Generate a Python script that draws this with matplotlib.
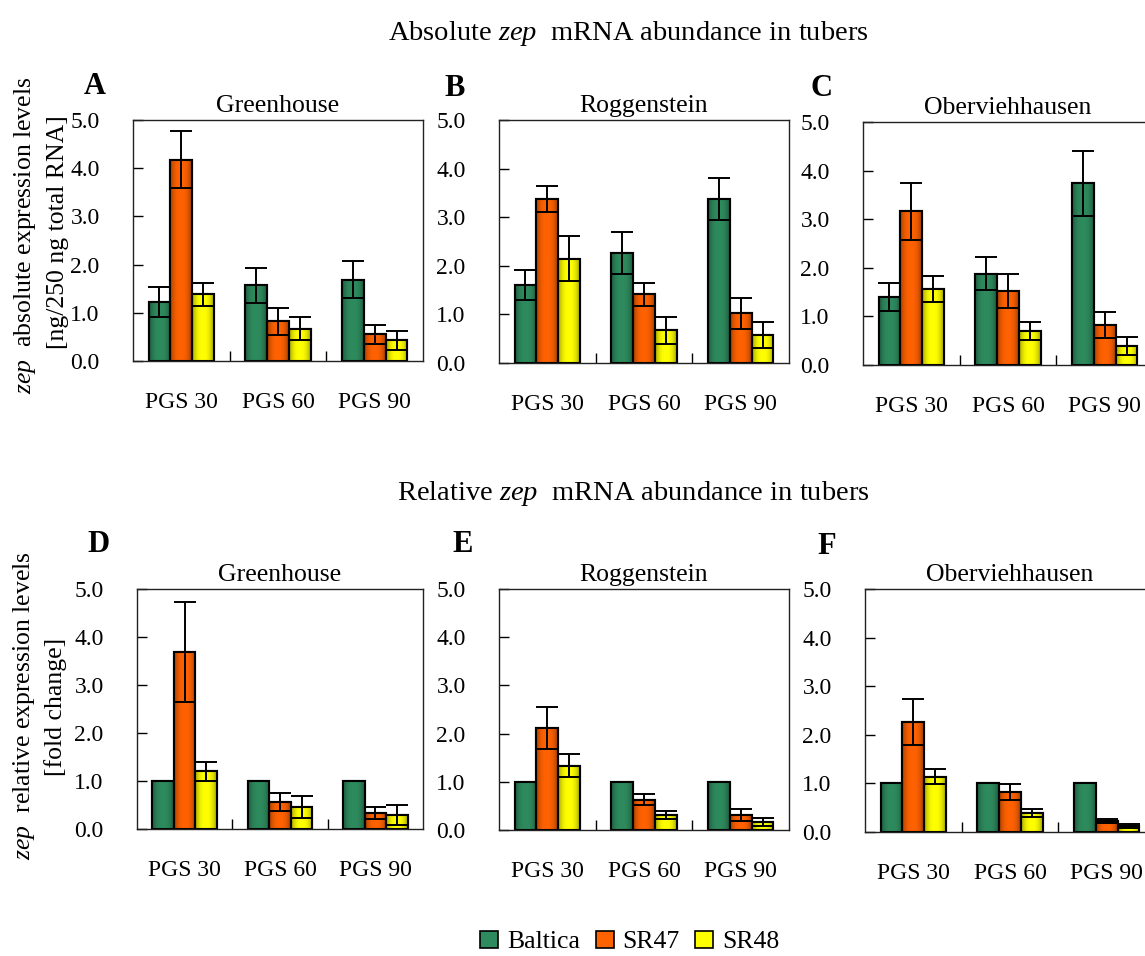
import numpy as np
import matplotlib.pyplot as plt
from matplotlib.patches import Patch
from matplotlib.colors import to_rgb

plt.rcParams['font.family'] = ['Liberation Serif', 'DejaVu Serif']
plt.rcParams['mathtext.fontset'] = 'custom'
plt.rcParams['mathtext.rm'] = 'Liberation Serif'
plt.rcParams['mathtext.it'] = 'Liberation Serif:italic'

groups = ['PGS 30', 'PGS 60', 'PGS 90']
cultivars = ['Baltica', 'SR47', 'SR48']
sites = ['Greenhouse', 'Roggenstein', 'Oberviehhausen']

# absolute expression (A-C), rows = cultivar, cols = PGS 30/60/90
abs_mean = {
    'Greenhouse':     [[1.22, 1.57, 1.69], [4.18, 0.82, 0.55], [1.38, 0.67, 0.43]],
    'Roggenstein':    [[1.61, 2.27, 3.37], [3.37, 1.41, 1.02], [2.15, 0.67, 0.58]],
    'Oberviehhausen': [[1.40, 1.88, 3.74], [3.16, 1.52, 0.82], [1.56, 0.70, 0.39]],
}
abs_err = {
    'Greenhouse':     [[0.31, 0.36, 0.39], [0.60, 0.28, 0.19], [0.24, 0.24, 0.20]],
    'Roggenstein':    [[0.31, 0.43, 0.43], [0.27, 0.24, 0.32], [0.47, 0.27, 0.27]],
    'Oberviehhausen': [[0.28, 0.34, 0.67], [0.58, 0.35, 0.27], [0.27, 0.19, 0.19]],
}
# relative expression (D-F), Baltica = 1 (no error)
rel_mean = {
    'Greenhouse':     [[1.0, 1.0, 1.0], [3.69, 0.56, 0.33], [1.20, 0.45, 0.29]],
    'Roggenstein':    [[1.0, 1.0, 1.0], [2.12, 0.63, 0.31], [1.33, 0.31, 0.16]],
    'Oberviehhausen': [[1.0, 1.0, 1.0], [2.27, 0.82, 0.23], [1.14, 0.39, 0.12]],
}
rel_err = {
    'Greenhouse':     [[0, 0, 0], [1.04, 0.19, 0.12], [0.20, 0.23, 0.20]],
    'Roggenstein':    [[0, 0, 0], [0.43, 0.11, 0.12], [0.24, 0.08, 0.08]],
    'Oberviehhausen': [[0, 0, 0], [0.47, 0.16, 0.04], [0.16, 0.08, 0.04]],
}

colors = ['#2e8b5e', '#ff6200', '#ffff00']
W, H = 1145, 956

fig = plt.figure(figsize=(W / 100, H / 100), dpi=100)

# axes boxes in pixels: left, top, right, bottom
boxes_top = [(133, 120, 423, 361), (499, 120, 789, 363), (863, 122, 1153, 365)]
boxes_bot = [(137, 589, 423, 829), (499, 589, 789, 830), (865, 589, 1155, 832)]
letters_top = [('A', 95, 87), ('B', 455, 88), ('C', 822, 88)]
letters_bot = [('D', 98, 545), ('E', 463, 545), ('F', 827, 547)]


def shade(ax, bars, color):
    # horizontal shading inside each bar, darker toward the edges
    base = np.array(to_rgb(color))
    t = np.linspace(0, 1, 64)
    f = 1 - 0.38 * np.abs(2 * t - 1) ** 2.5
    img = (base[None, :] * f[:, None])[None, :, :]
    for p in bars:
        x0, y0 = p.get_x(), p.get_y()
        im = ax.imshow(img, extent=(x0, x0 + p.get_width(), y0, y0 + p.get_height()),
                       aspect='auto', zorder=2.1, interpolation='bilinear')
        im.set_clip_path(p)


def panel(box, site, means, errs):
    l, t, r, b = box
    ax = fig.add_axes([l / W, 1 - b / H, (r - l) / W, (b - t) / H])
    x = np.arange(len(groups))
    w = 0.226
    for i in range(3):
        e = np.array(errs[i])
        bars = ax.bar(x + (i - 1) * w, means[i], w, color=colors[i], edgecolor='black',
                      linewidth=1.5, zorder=2)
        shade(ax, bars, colors[i])
        ax.bar(x + (i - 1) * w, means[i], w, fill=False, edgecolor='black',
               linewidth=1.5, zorder=2.2)
        if e.any():
            ax.errorbar(x + (i - 1) * w, means[i], yerr=e, fmt='none', ecolor='black',
                        elinewidth=1.4, capsize=8, capthick=1.4, zorder=3)
    ax.set_xlim(-0.5, 2.5)
    ax.set_ylim(0, 5)
    ax.set_yticks(np.arange(0, 5.01, 1.0))
    ax.set_yticklabels(['%.1f' % v for v in np.arange(0, 5.01, 1.0)])
    ax.set_xticks(x)
    ax.set_xticklabels(groups)
    ax.set_xticks([0.5, 1.5], minor=True)
    ax.tick_params(axis='x', which='major', length=0, pad=22, labelsize=17)
    ax.tick_params(axis='x', which='minor', direction='in', length=7, width=1)
    ax.tick_params(axis='y', direction='in', length=7, width=1, pad=24, labelsize=17)
    for s in ax.spines.values():
        s.set_linewidth(1.0)
        s.set_color('#222222')
    ax.set_title(site, fontsize=18.5, pad=6)
    return ax


for k, site in enumerate(sites):
    panel(boxes_top[k], site, abs_mean[site], abs_err[site])
    panel(boxes_bot[k], site, rel_mean[site], rel_err[site])

for lab, lx, ly in letters_top + letters_bot:
    fig.text(lx / W, 1 - ly / H, lab, fontsize=22, fontweight='bold', ha='center', va='center')

fig.text(628 / W, 1 - 33 / H, r'Absolute $\mathit{zep}$  mRNA abundance in tubers',
         fontsize=20.5, ha='center', va='center')
fig.text(633 / W, 1 - 493 / H, r'Relative $\mathit{zep}$  mRNA abundance in tubers',
         fontsize=20.5, ha='center', va='center')

fig.text(25 / W, 1 - 235 / H, r'$\mathit{zep}$  absolute expression levels',
         fontsize=18.5, rotation=90, ha='center', va='center')
fig.text(58 / W, 1 - 232 / H, '[ng/250 ng total RNA]',
         fontsize=18.5, rotation=90, ha='center', va='center')
fig.text(24 / W, 1 - 706 / H, r'$\mathit{zep}$  relative expression levels',
         fontsize=18.5, rotation=90, ha='center', va='center')
fig.text(56 / W, 1 - 707 / H, '[fold change]',
         fontsize=18.5, rotation=90, ha='center', va='center')

handles = [Patch(facecolor=c, edgecolor='black', linewidth=1.2, label=n)
           for c, n in zip(colors, cultivars)]
fig.legend(handles=handles, loc='center', bbox_to_anchor=(630 / W, 1 - 942 / H), ncol=3,
           frameon=False, fontsize=18.5, handlelength=0.7, handleheight=0.7,
           handletextpad=0.35, columnspacing=0.6, borderpad=0)

fig.savefig('out.png', dpi=100)
